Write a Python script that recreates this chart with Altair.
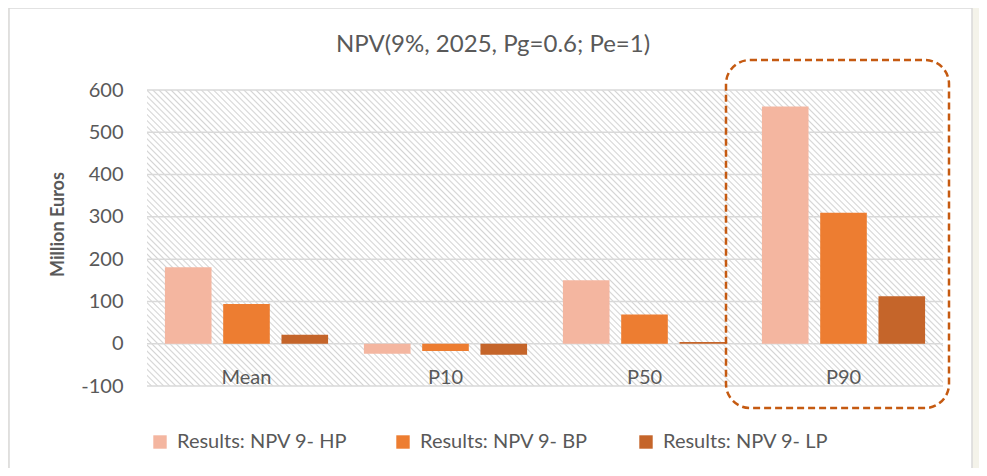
import altair as alt
import pandas as pd

categories = ["Mean", "P10", "P50", "P90"]
series = ["Results: NPV 9- HP", "Results: NPV 9- BP", "Results: NPV 9- LP"]
hp_values = [181, -24, 150, 561]
bp_values = [94, -17, 69, 310]
lp_values = [21, -26, 4, 112]
y_ticks = [-100, 0, 100, 200, 300, 400, 500, 600]
colors = ["#f4b6a0", "#ed7d31", "#c5652a"]
title_text = "NPV(9%, 2025, Pg=0.6; Pe=1)"

rows = []
for s, vals in zip(series, [hp_values, bp_values, lp_values]):
    for c, v in zip(categories, vals):
        rows.append({"category": c, "series": s, "value": v})
df = pd.DataFrame(rows)
grid_df = pd.DataFrame({"tick": y_ticks})

W, H = 796, 296
FONT = "Lato"
TXT = "#595959"

# hatch pattern via a striped linear gradient (diagonal "\" stripes)
N = 180
stops = []
for i in range(N):
    stops.append({"offset": i / N, "color": "#ffffff"})
    stops.append({"offset": (i + 0.5) / N, "color": "#ffffff"})
    stops.append({"offset": (i + 0.75) / N, "color": "#d4d4d4"})
stops.append({"offset": 1.0, "color": "#ffffff"})
hatch = {"gradient": "linear", "x1": 0, "y1": 1, "x2": 1.2056, "y2": 0.5515, "stops": stops}

one = pd.DataFrame({"a": [0]})

frame = alt.Chart(one).mark_rect(
    fill="#ffffff", stroke="#d9d9d9", strokeWidth=1.5, clip=False
).encode(x=alt.value(-138), x2=alt.value(825), y=alt.value(-82), y2=alt.value(392))

title = alt.Chart(one).mark_text(
    fontSize=24, font=FONT, color=TXT, align="center", baseline="middle"
).encode(x=alt.value(346), y=alt.value(-45), text=alt.value(title_text))

bg = alt.Chart(one).mark_rect(fill=hatch).encode(
    x=alt.value(0), x2=alt.value(W), y=alt.value(0), y2=alt.value(H)
)

grid = alt.Chart(grid_df).mark_rule(color="#d9d9d9", strokeWidth=1.5).encode(
    y=alt.Y("tick:Q", scale=alt.Scale(domain=[-100, 600], nice=False))
)

bars = alt.Chart(df).mark_bar().encode(
    x=alt.X("category:N", sort=categories,
            scale=alt.Scale(paddingInner=0.18, paddingOuter=0.09),
            axis=alt.Axis(title=None, domain=False, ticks=False, labelAngle=0,
                          labelFontSize=20, labelColor=TXT, labelFont=FONT,
                          labelBaseline="middle", labelPadding=-9, zindex=1)),
    xOffset=alt.XOffset("series:N", sort=series,
                        scale=alt.Scale(paddingInner=0.2, paddingOuter=0)),
    y=alt.Y("value:Q", scale=alt.Scale(domain=[-100, 600], nice=False),
            axis=alt.Axis(title="Million Euros", values=y_ticks, grid=False,
                          domain=False, ticks=False, labelFontSize=20,
                          labelExpr="'' + datum.value",
                          labelColor=TXT, labelFont=FONT, labelPadding=24,
                          titleFontSize=18, titleFont=FONT, titleColor=TXT,
                          titleFontWeight="bold", titleX=-89, titleY=134,
                          titleAlign="center", titleBaseline="middle", titleAngle=-90,
                          zindex=1)),
    color=alt.Color("series:N", sort=series,
                    scale=alt.Scale(domain=series, range=colors),
                    legend=alt.Legend(title=None, orient="none", direction="horizontal",
                                      legendX=3, legendY=342, symbolType="square",
                                      symbolSize=180, symbolStrokeWidth=0,
                                      labelFontSize=20, labelFont=FONT, labelColor=TXT,
                                      labelOffset=7, columnPadding=45, gridAlign="all",
                                      labelLimit=300, zindex=1)),
)

box = alt.Chart(one).mark_rect(
    fill=None, stroke="#c55a11", strokeWidth=2.5, strokeDash=[7, 4],
    cornerRadius=24, clip=False
).encode(x=alt.value(579), x2=alt.value(802), y=alt.value(-30), y2=alt.value(318))

chart = alt.layer(frame, title, bg, grid, bars, box).properties(
    width=W, height=H,
    autosize=alt.AutoSizeParams(type="none"),
    padding={"left": 139, "top": 82, "right": 36, "bottom": 82},
    background="#f4f3ea",
).configure_view(stroke=None)

chart.save("out.html", embed_options={"renderer": "svg", "actions": False})
